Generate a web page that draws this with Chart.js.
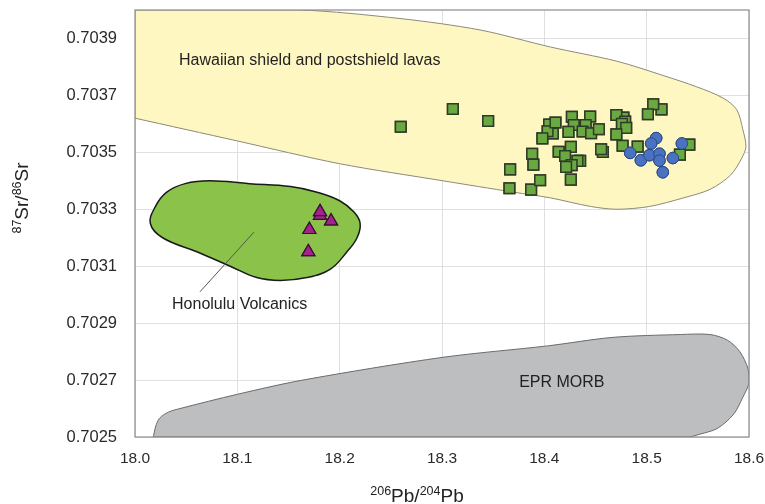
<!DOCTYPE html>
<html>
<head>
<meta charset="utf-8">
<script src="https://cdn.jsdelivr.net/npm/chart.js@4.4.1/dist/chart.umd.min.js"></script>
<style>
  body { margin: 0; background: #fff; }
  canvas { display: block; }
</style>
</head>
<body>
<canvas id="isoChart" width="765" height="504"></canvas>
<script>
// axis ticks
const xTicks = [18.0, 18.1, 18.2, 18.3, 18.4, 18.5, 18.6];
const yTicks = [0.7025, 0.7027, 0.7029, 0.7031, 0.7033, 0.7035, 0.7037, 0.7039];

// Hawaiian shield and postshield lavas field (outline)
const hawaiiFieldPb = [18.000, 18.000, 18.161, 18.259, 18.337, 18.406, 18.471, 18.516, 18.549, 18.575, 18.588, 18.594, 18.597,
  18.593, 18.582, 18.562, 18.536, 18.503, 18.471, 18.445, 18.406, 18.370, 18.301, 18.200, 18.100, 18.000];
const hawaiiFieldSr = [0.70362, 0.70400, 0.70400, 0.70397, 0.70393, 0.70387, 0.70382, 0.70377, 0.70373, 0.70369, 0.70365, 0.70358, 0.70352,
  0.70348, 0.70342, 0.70337, 0.70334, 0.70331, 0.70330, 0.70331, 0.70334, 0.70336, 0.70340, 0.70346, 0.70354, 0.70362];

// Honolulu Volcanics field (outline)
const honoluluFieldPb = [18.112, 18.152, 18.178, 18.200, 18.214, 18.220, 18.217, 18.207, 18.191, 18.168, 18.142, 18.119, 18.093,
  18.061, 18.027, 18.015, 18.020, 18.031, 18.049, 18.073, 18.112];
const honoluluFieldSr = [0.70339, 0.70338, 0.70336, 0.70333, 0.70329, 0.70325, 0.70320, 0.70315, 0.70309, 0.70306, 0.70305, 0.70306, 0.70310,
  0.70315, 0.70320, 0.70325, 0.70331, 0.70336, 0.70339, 0.70340, 0.70339];

// EPR MORB field (outline)
const morbFieldPb = [18.018, 18.020, 18.024, 18.033, 18.044, 18.100, 18.164, 18.301, 18.403, 18.467, 18.533, 18.562, 18.579, 18.591,
  18.599, 18.600, 18.594, 18.585, 18.569, 18.552, 18.540, 18.018];
const morbFieldSr = [0.70250, 0.702535, 0.702566, 0.702588, 0.70260, 0.70265, 0.70270, 0.70278, 0.70282, 0.70285, 0.70286, 0.70286, 0.70284, 0.70280,
  0.70274, 0.70269, 0.70264, 0.70258, 0.70253, 0.70251, 0.70250, 0.70250];

// leader line for the Honolulu label
const leaderPb = [18.0635, 18.1163];
const leaderSr = [0.70301, 0.70322];

// green squares
const squarePb = [18.2597, 18.3106, 18.3451, 18.3666, 18.3659, 18.3871, 18.3959, 18.3881, 18.3893, 18.4047, 18.4083, 18.4032,
  18.3981, 18.4109, 18.4269, 18.4448, 18.4288, 18.4236, 18.4404, 18.4374, 18.4457, 18.4533, 18.4140, 18.4259, 18.4203, 18.4350,
  18.4324, 18.4267, 18.4213, 18.4259, 18.4572, 18.4555, 18.4773, 18.4704, 18.4790, 18.4758, 18.4800, 18.4704, 18.4765, 18.4912,
  18.5145, 18.5064, 18.5012, 18.5417, 18.5325];
const squareSr = [0.703590, 0.703652, 0.703610, 0.703440, 0.703374, 0.703369, 0.703402, 0.703495, 0.703457, 0.703598, 0.703566, 0.703574,
  0.703549, 0.703605, 0.703625, 0.703626, 0.703596, 0.703572, 0.703596, 0.703573, 0.703567, 0.703581, 0.703502, 0.703519, 0.703487, 0.703470,
  0.703470, 0.703455, 0.703449, 0.703404, 0.703501, 0.703511, 0.703622, 0.703631, 0.703608, 0.703600, 0.703586, 0.703563, 0.703523, 0.703520,
  0.703651, 0.703669, 0.703634, 0.703527, 0.703492];

// blue circles
const circlePb = [18.5093, 18.5044, 18.4839, 18.4943, 18.5027, 18.5125, 18.5125, 18.5256, 18.5344, 18.5158];
const circleSr = [0.703550, 0.703531, 0.703498, 0.703472, 0.703490, 0.703495, 0.703471, 0.703480, 0.703531, 0.703430];

// magenta triangles (Honolulu Volcanics)
const trianglePb = [18.1808, 18.1808, 18.1916, 18.1704, 18.1694];
const triangleSr = [0.703278, 0.703291, 0.703258, 0.703228, 0.703150];

const pts = (xs, ys) => xs.map((x, i) => ({ x: x, y: ys[i] }));
const FONT = '"Liberation Sans", Arial, sans-serif';

function drawRich(ctx, parts, cx, cy) {
  let w = 0;
  parts.forEach(p => {
    ctx.font = (p.sup ? '12.5px ' : '19px ') + FONT;
    p.w = ctx.measureText(p.t).width;
    w += p.w;
  });
  let x = cx - w / 2;
  parts.forEach(p => {
    ctx.font = (p.sup ? '12.5px ' : '19px ') + FONT;
    ctx.fillText(p.t, x, p.sup ? cy - 7 : cy);
    x += p.w;
  });
}

const overlay = {
  id: 'overlay',
  afterDraw(chart) {
    const { ctx, chartArea: a, scales: { x, y } } = chart;
    ctx.save();
    ctx.strokeStyle = '#8c8c8c';
    ctx.lineWidth = 1.2;
    ctx.strokeRect(a.left, a.top, a.right - a.left, a.bottom - a.top);
    ctx.restore();

    // put the markers back above the grid
    [4, 5, 6].forEach(i => chart.getDatasetMeta(i).controller.draw());

    ctx.save();
    ctx.fillStyle = '#222';
    ctx.font = '16px ' + FONT;
    ctx.textAlign = 'left';
    ctx.textBaseline = 'middle';
    ctx.fillText('Hawaiian shield and postshield lavas', x.getPixelForValue(18.043), y.getPixelForValue(0.703821));
    ctx.fillText('Honolulu Volcanics', x.getPixelForValue(18.0362), y.getPixelForValue(0.702965));
    ctx.fillText('EPR MORB', x.getPixelForValue(18.3754), y.getPixelForValue(0.70269));

    ctx.textAlign = 'left';
    ctx.textBaseline = 'alphabetic';
    drawRich(ctx, [{ t: '206', sup: 1 }, { t: 'Pb/' }, { t: '204', sup: 1 }, { t: 'Pb' }], 417, 502);
    ctx.translate(28, 198);
    ctx.rotate(-Math.PI / 2);
    drawRich(ctx, [{ t: '87', sup: 1 }, { t: 'Sr/' }, { t: '86', sup: 1 }, { t: 'Sr' }], 0, 0);
    ctx.restore();
  }
};

const gridStyle = { color: 'rgba(218,218,218,0.85)', lineWidth: 1, drawTicks: false };

new Chart(document.getElementById('isoChart'), {
  type: 'scatter',
  data: {
    datasets: [
      {
        type: 'line', label: 'Hawaiian field', data: pts(hawaiiFieldPb, hawaiiFieldSr), order: 10,
        backgroundColor: '#fff7c2', borderColor: '#8a8a7a', borderWidth: 1, fill: 'shape', tension: 0.3, pointRadius: 0
      },
      {
        type: 'line', label: 'EPR MORB', data: pts(morbFieldPb, morbFieldSr), order: 9,
        backgroundColor: '#bdbec0', borderColor: '#6b6b6b', borderWidth: 1, fill: 'shape', tension: 0.3, pointRadius: 0
      },
      {
        type: 'line', label: 'Honolulu field', data: pts(honoluluFieldPb, honoluluFieldSr), order: 8,
        backgroundColor: '#8bc34a', borderColor: '#1a1a1a', borderWidth: 1.5, fill: 'shape', tension: 0.4, pointRadius: 0
      },
      {
        type: 'line', label: 'leader', data: pts(leaderPb, leaderSr), order: 7,
        borderColor: '#555', borderWidth: 1, fill: false, pointRadius: 0
      },
      {
        label: 'squares', data: pts(squarePb, squareSr), order: 3,
        pointStyle: 'rect', pointRadius: 7.5, backgroundColor: '#6aa842', borderColor: '#2e3b26', borderWidth: 1.5
      },
      {
        label: 'circles', data: pts(circlePb, circleSr), order: 2,
        pointStyle: 'circle', pointRadius: 5.8, backgroundColor: '#4a72c0', borderColor: '#2b4a85', borderWidth: 1
      },
      {
        label: 'triangles', data: pts(trianglePb, triangleSr), order: 1,
        pointStyle: 'triangle', pointRadius: 7.5, backgroundColor: '#a3238e', borderColor: '#3b0f33', borderWidth: 1.2
      }
    ]
  },
  options: {
    responsive: false,
    animation: false,
    events: [],
    layout: { padding: { top: 10, right: 16, bottom: 0, left: 0 } },
    plugins: { legend: { display: false }, tooltip: { enabled: false } },
    scales: {
      x: {
        type: 'linear', min: 18.0, max: 18.6, z: 1,
        grid: gridStyle,
        border: { display: false },
        afterBuildTicks: s => { s.ticks = xTicks.map(v => ({ value: v })); },
        afterFit: s => { s.height = 67; s.paddingLeft = 0; s.paddingRight = 0; },
        ticks: {
          padding: 12, maxRotation: 0, color: '#2a2a2a',
          font: { family: FONT, size: 15.5 },
          callback: v => v.toFixed(1)
        }
      },
      y: {
        type: 'linear', min: 0.7025, max: 0.7040, z: 1,
        grid: gridStyle,
        border: { display: false },
        afterBuildTicks: s => { s.ticks = yTicks.map(v => ({ value: v })); },
        afterFit: s => { s.width = 135; s.paddingTop = 0; s.paddingBottom = 0; },
        ticks: {
          padding: 18, color: '#2a2a2a',
          font: { family: FONT, size: 16.5 },
          callback: v => v.toFixed(4)
        }
      }
    }
  },
  plugins: [overlay]
});
</script>
</body>
</html>
